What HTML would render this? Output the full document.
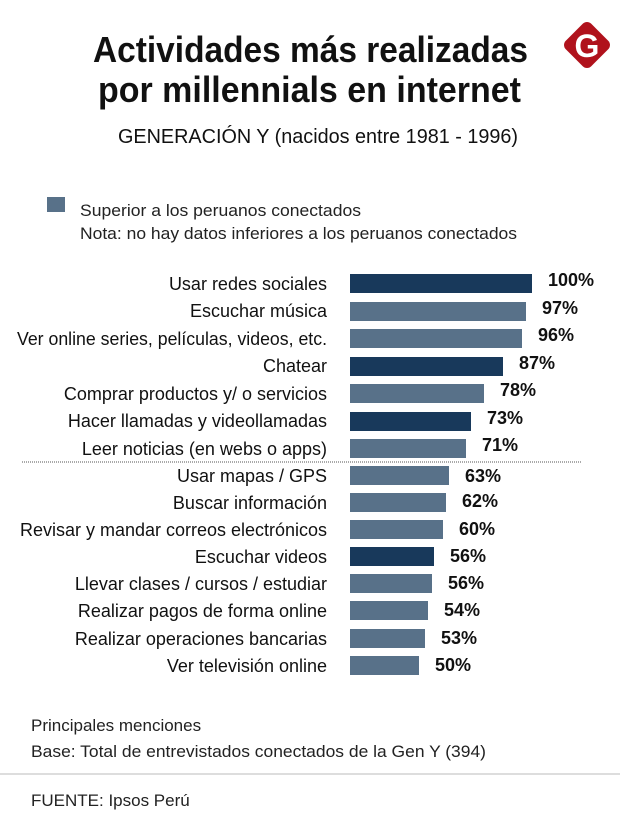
<!DOCTYPE html>
<html><head><meta charset="utf-8"><style>
html,body{margin:0;padding:0;background:#fff;}
svg{display:block;font-family:"Liberation Sans Narrow","Liberation Sans",sans-serif;}
</style></head><body>
<svg width="620" height="838" viewBox="0 0 620 838" xmlns="http://www.w3.org/2000/svg">
<rect width="620" height="838" fill="#fff"/>
<rect x="569" y="27" width="36" height="36" rx="6" transform="rotate(45 587 45)" fill="#b0121c"/>
<text x="587" y="57" text-anchor="middle" font-family="Liberation Sans" font-weight="bold" font-size="32" fill="#fff">G</text>
<text x="93" y="62" font-family="Liberation Sans" font-weight="bold" font-size="36" fill="#111" textLength="435" lengthAdjust="spacingAndGlyphs">Actividades más realizadas</text>
<text x="98" y="102" font-family="Liberation Sans" font-weight="bold" font-size="36" fill="#111" textLength="423" lengthAdjust="spacingAndGlyphs">por millennials en internet</text>
<text x="118" y="143" font-size="20" fill="#111" textLength="400" lengthAdjust="spacingAndGlyphs">GENERACIÓN Y (nacidos entre 1981 - 1996)</text>
<rect x="47" y="197" width="18" height="15" fill="#587189"/>
<text x="80" y="216" font-size="17" fill="#222" textLength="281" lengthAdjust="spacingAndGlyphs">Superior a los peruanos conectados</text>
<text x="80" y="239" font-size="17" fill="#222" textLength="437" lengthAdjust="spacingAndGlyphs">Nota: no hay datos inferiores a los peruanos conectados</text>
<line x1="22" y1="462" x2="581" y2="462" stroke="#555" stroke-width="1" stroke-dasharray="1,1"/>
<g font-size="18" fill="#111" text-anchor="end">
<text x="327" y="290">Usar redes sociales</text>
<text x="327" y="317">Escuchar música</text>
<text x="327" y="345" textLength="310" lengthAdjust="spacingAndGlyphs">Ver online series, películas, videos, etc.</text>
<text x="327" y="372">Chatear</text>
<text x="327" y="400">Comprar productos y/ o servicios</text>
<text x="327" y="427">Hacer llamadas y videollamadas</text>
<text x="327" y="455">Leer noticias (en webs o apps)</text>
<text x="327" y="482">Usar mapas / GPS</text>
<text x="327" y="509">Buscar información</text>
<text x="327" y="536" textLength="307" lengthAdjust="spacingAndGlyphs">Revisar y mandar correos electrónicos</text>
<text x="327" y="563">Escuchar videos</text>
<text x="327" y="590">Llevar clases / cursos / estudiar</text>
<text x="327" y="617">Realizar pagos de forma online</text>
<text x="327" y="645">Realizar operaciones bancarias</text>
<text x="327" y="672">Ver televisión online</text>
</g>
<g>
<rect x="350" y="274" width="182" height="19" fill="#18395b"/>
<rect x="350" y="302" width="176" height="19" fill="#587189"/>
<rect x="350" y="329" width="172" height="19" fill="#587189"/>
<rect x="350" y="357" width="153" height="19" fill="#18395b"/>
<rect x="350" y="384" width="134" height="19" fill="#587189"/>
<rect x="350" y="412" width="121" height="19" fill="#18395b"/>
<rect x="350" y="439" width="116" height="19" fill="#587189"/>
<rect x="350" y="466" width="99" height="19" fill="#587189"/>
<rect x="350" y="493" width="96" height="19" fill="#587189"/>
<rect x="350" y="520" width="93" height="19" fill="#587189"/>
<rect x="350" y="547" width="84" height="19" fill="#18395b"/>
<rect x="350" y="574" width="82" height="19" fill="#587189"/>
<rect x="350" y="601" width="78" height="19" fill="#587189"/>
<rect x="350" y="629" width="75" height="19" fill="#587189"/>
<rect x="350" y="656" width="69" height="19" fill="#587189"/>
</g>
<g font-family="Liberation Sans" font-weight="bold" font-size="18" fill="#111">
<text x="548" y="286">100%</text>
<text x="542" y="314">97%</text>
<text x="538" y="341">96%</text>
<text x="519" y="369">87%</text>
<text x="500" y="396">78%</text>
<text x="487" y="424">73%</text>
<text x="482" y="451">71%</text>
<text x="465" y="482">63%</text>
<text x="462" y="507">62%</text>
<text x="459" y="535">60%</text>
<text x="450" y="562">56%</text>
<text x="448" y="589">56%</text>
<text x="444" y="616">54%</text>
<text x="441" y="644">53%</text>
<text x="435" y="671">50%</text>
</g>
<g font-size="17" fill="#222">
<text x="31" y="731">Principales menciones</text>
<text x="31" y="757" textLength="455" lengthAdjust="spacingAndGlyphs">Base: Total de entrevistados conectados de la Gen Y (394)</text>
<text x="31" y="806">FUENTE: Ipsos Perú</text>
</g>
<line x1="0" y1="774" x2="620" y2="774" stroke="#bbb" stroke-width="1"/>
</svg>
</body></html>
